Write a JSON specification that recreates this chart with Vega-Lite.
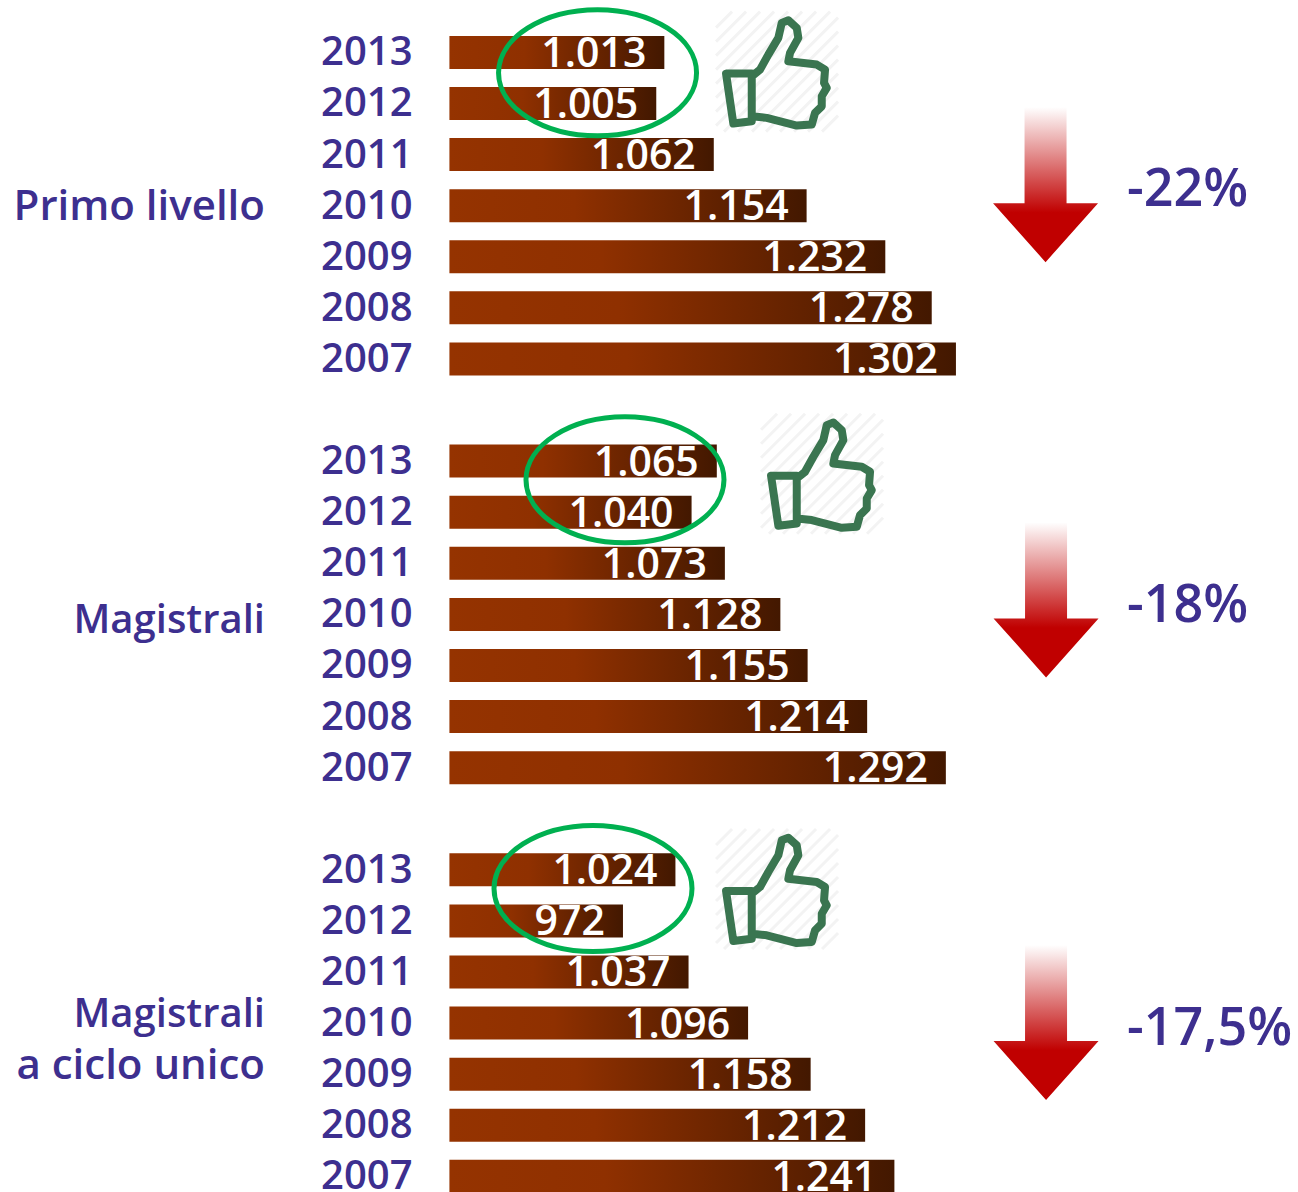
{
"$schema":"https://vega.github.io/schema/vega-lite/v6.json",
"width":1298,"height":1192,"padding":0,"autosize":{"type":"none"},
"background":"white","view":{"stroke":null},
"config":{"font":"Open Sans"},
"data":{"values":[
{"row":"Primo livello|2013","value":1013,"label":"1.013"},
{"row":"Primo livello|2012","value":1005,"label":"1.005"},
{"row":"Primo livello|2011","value":1062,"label":"1.062"},
{"row":"Primo livello|2010","value":1154,"label":"1.154"},
{"row":"Primo livello|2009","value":1232,"label":"1.232"},
{"row":"Primo livello|2008","value":1278,"label":"1.278"},
{"row":"Primo livello|2007","value":1302,"label":"1.302"},
{"row":"Magistrali|2013","value":1065,"label":"1.065"},
{"row":"Magistrali|2012","value":1040,"label":"1.040"},
{"row":"Magistrali|2011","value":1073,"label":"1.073"},
{"row":"Magistrali|2010","value":1128,"label":"1.128"},
{"row":"Magistrali|2009","value":1155,"label":"1.155"},
{"row":"Magistrali|2008","value":1214,"label":"1.214"},
{"row":"Magistrali|2007","value":1292,"label":"1.292"},
{"row":"Ciclo unico|2013","value":1024,"label":"1.024"},
{"row":"Ciclo unico|2012","value":972,"label":"972"},
{"row":"Ciclo unico|2011","value":1037,"label":"1.037"},
{"row":"Ciclo unico|2010","value":1096,"label":"1.096"},
{"row":"Ciclo unico|2009","value":1158,"label":"1.158"},
{"row":"Ciclo unico|2008","value":1212,"label":"1.212"},
{"row":"Ciclo unico|2007","value":1241,"label":"1.241"}
]},
"encoding":{
  "y":{"field":"row","type":"nominal","title":null,
   "scale":{"domain":["Primo livello|2013","Primo livello|2012","Primo livello|2011","Primo livello|2010","Primo livello|2009","Primo livello|2008","Primo livello|2007","gap1","Magistrali|2013","Magistrali|2012","Magistrali|2011","Magistrali|2010","Magistrali|2009","Magistrali|2008","Magistrali|2007","gap2","Ciclo unico|2013","Ciclo unico|2012","Ciclo unico|2011","Ciclo unico|2010","Ciclo unico|2009","Ciclo unico|2008","Ciclo unico|2007"],"range":[26.85,1201.9],"paddingInner":0,"paddingOuter":0},
   "axis":{"orient":"left","offset":-414,"domain":false,"ticks":false,"grid":false,"labelPadding":2,"labelOffset":1,"labelFont":"Open Sans","labelFontSize":40,"labelColor":"#3d2f8f","labelOverlap":false,"labelFontWeight":600,"labelExpr":"indexof(datum.value,'|')>0 ? split(datum.value,'|')[1] : ''"}}
},
"layer":[
{"mark":{"type":"bar","height":33,"fill":{"gradient":"linear","x1":0,"y1":0,"x2":1,"y2":0,"stops":[{"offset":0,"color":"#953300"},{"offset":0.35,"color":"#8f3000"},{"offset":1,"color":"#431800"}]}},
 "encoding":{
  "x":{"field":"value","type":"quantitative","scale":{"domain":[354.6,1641],"nice":false,"zero":false},"axis":null},
  "x2":{"datum":800}}},
{"mark":{"type":"text","align":"right","baseline":"alphabetic","dx":-18,"dy":14.5,"font":"Open Sans","fontSize":41,"fontWeight":600,"fill":"white"},
 "encoding":{"x":{"field":"value","type":"quantitative","axis":null},"text":{"field":"label"}}},
{"data":{"values":[{"row":"Primo livello|2010","label":"Primo livello"}]},
 "mark":{"type":"text","align":"right","baseline":"middle","dy":1,"font":"Open Sans","fontSize":42,"fontWeight":600,"fill":"#3d2f8f"},
 "encoding":{"x":{"datum":617.2},"text":{"field":"label"}}},
{"data":{"values":[{"row":"Magistrali|2010","label":"Magistrali"}]},
 "mark":{"type":"text","align":"right","baseline":"middle","dy":7,"font":"Open Sans","fontSize":40,"fontWeight":600,"fill":"#3d2f8f"},
 "encoding":{"x":{"datum":617.2},"text":{"field":"label"}}},
{"data":{"values":[{"row":"Ciclo unico|2010","label":"Magistrali"}]},
 "mark":{"type":"text","align":"right","baseline":"middle","dy":-8,"font":"Open Sans","fontSize":40,"fontWeight":600,"fill":"#3d2f8f"},
 "encoding":{"x":{"datum":617.2},"text":{"field":"label"}}},
{"data":{"values":[{"row":"Ciclo unico|2009","label":"a ciclo unico"}]},
 "mark":{"type":"text","align":"right","baseline":"middle","dy":-8,"font":"Open Sans","fontSize":42,"fontWeight":600,"fill":"#3d2f8f"},
 "encoding":{"x":{"datum":617.2},"text":{"field":"label"}}},
{"data":{"values":[{"row":"Primo livello|2010","label":"-22%"}]},
 "mark":{"type":"text","align":"left","baseline":"middle","dy":-16,"font":"Open Sans","fontSize":52,"fontWeight":600,"fill":"#3d2f8f"},
 "encoding":{"x":{"datum":1471.6},"text":{"field":"label"}}},
{"data":{"values":[{"row":"Magistrali|2010","label":"-18%"}]},
 "mark":{"type":"text","align":"left","baseline":"middle","dy":-8,"font":"Open Sans","fontSize":52,"fontWeight":600,"fill":"#3d2f8f"},
 "encoding":{"x":{"datum":1471.6},"text":{"field":"label"}}},
{"data":{"values":[{"row":"Ciclo unico|2010","label":"-17,5%"}]},
 "mark":{"type":"text","align":"left","baseline":"middle","dy":6,"font":"Open Sans","fontSize":52,"fontWeight":600,"fill":"#3d2f8f"},
 "encoding":{"x":{"datum":1471.6},"text":{"field":"label"}}},
{"data":{"values":[{"row":"Primo livello|2010"}]},
 "mark":{"type":"point","filled":true,"opacity":1,"size":4,"yOffset":-21,"shape":"M-21,-77.5L21,-77.5L21,18.5L52.5,18.5L0,77.5L-52.5,18.5L-21,18.5Z","fill":{"gradient":"linear","x1":0,"y1":0,"x2":0,"y2":1,"stops":[{"offset":0,"color":"#ffffff"},{"offset":0.68,"color":"#c00000"},{"offset":1,"color":"#c00000"}]}},
 "encoding":{"x":{"datum":1390.8}}},
{"data":{"values":[{"row":"Magistrali|2010"}]},
 "mark":{"type":"point","filled":true,"opacity":1,"size":4,"yOffset":-14.5,"shape":"M-21,-77.5L21,-77.5L21,18.5L52.5,18.5L0,77.5L-52.5,18.5L-21,18.5Z","fill":{"gradient":"linear","x1":0,"y1":0,"x2":0,"y2":1,"stops":[{"offset":0,"color":"#ffffff"},{"offset":0.68,"color":"#c00000"},{"offset":1,"color":"#c00000"}]}},
 "encoding":{"x":{"datum":1391.3}}},
{"data":{"values":[{"row":"Ciclo unico|2010"}]},
 "mark":{"type":"point","filled":true,"opacity":1,"size":4,"yOffset":-0.5,"shape":"M-21,-77.5L21,-77.5L21,18.5L52.5,18.5L0,77.5L-52.5,18.5L-21,18.5Z","fill":{"gradient":"linear","x1":0,"y1":0,"x2":0,"y2":1,"stops":[{"offset":0,"color":"#ffffff"},{"offset":0.68,"color":"#c00000"},{"offset":1,"color":"#c00000"}]}},
 "encoding":{"x":{"datum":1391.3}}},
{"data":{"values":[{"row":"Primo livello|2012"}]},
 "mark":{"type":"point","filled":false,"opacity":1,"size":4,"yOffset":-30.7,"strokeWidth":5,"stroke":"#00b050","shape":"M-99,0C-99,-34.8,-54.7,-63,0,-63C54.7,-63,99,-34.8,99,0C99,34.8,54.7,63,0,63C-54.7,63,-99,34.8,-99,0Z"},
 "encoding":{"x":{"datum":946.8}}},
{"data":{"values":[{"row":"Magistrali|2012"}]},
 "mark":{"type":"point","filled":false,"opacity":1,"size":4,"yOffset":-32.4,"strokeWidth":5,"stroke":"#00b050","shape":"M-99,0C-99,-34.8,-54.7,-63,0,-63C54.7,-63,99,-34.8,99,0C99,34.8,54.7,63,0,63C-54.7,63,-99,34.8,-99,0Z"},
 "encoding":{"x":{"datum":974}}},
{"data":{"values":[{"row":"Ciclo unico|2012"}]},
 "mark":{"type":"point","filled":false,"opacity":1,"size":4,"yOffset":-32.4,"strokeWidth":5,"stroke":"#00b050","shape":"M-99,0C-99,-34.8,-54.7,-63,0,-63C54.7,-63,99,-34.8,99,0C99,34.8,54.7,63,0,63C-54.7,63,-99,34.8,-99,0Z"},
 "encoding":{"x":{"datum":942.3}}},
{"data":{"values":[{"row":"Primo livello|2012"},{"row":"Ciclo unico|2012"}]},
 "mark":{"type":"point","filled":false,"opacity":1,"size":4,"yOffset":-31.9,"strokeWidth":3,"stroke":"#f3f3f3","shape":"M61,-54L-53,60M61,-40L-39,60M61,-26L-25,60M61,-12L-11,60M61,2L3,60M61,16L17,60M61,30L31,60M61,44L45,60M-61,54L53,-60M-61,40L39,-60M-61,26L25,-60M-61,12L11,-60M-61,-2L-3,-60M-61,-16L-17,-60M-61,-30L-31,-60M-61,-44L-45,-60"},
 "encoding":{"x":{"datum":1124.7}}},
{"data":{"values":[{"row":"Magistrali|2012"}]},
 "mark":{"type":"point","filled":false,"opacity":1,"size":4,"yOffset":-38.4,"strokeWidth":3,"stroke":"#f3f3f3","shape":"M61,-54L-53,60M61,-40L-39,60M61,-26L-25,60M61,-12L-11,60M61,2L3,60M61,16L17,60M61,30L31,60M61,44L45,60M-61,54L53,-60M-61,40L39,-60M-61,26L25,-60M-61,12L11,-60M-61,-2L-3,-60M-61,-16L-17,-60M-61,-30L-31,-60M-61,-44L-45,-60"},
 "encoding":{"x":{"datum":1169.3}}},
{"data":{"values":[{"row":"Primo livello|2012"},{"row":"Ciclo unico|2012"}]},
 "mark":{"type":"point","filled":false,"opacity":1,"size":4,"yOffset":-31.9,"strokeWidth":8,"stroke":"#3a7550","strokeJoin":"round","strokeCap":"round","shape":"M-51,2L-25.3,2L-25.3,49.7L-43.7,52ZM-25.3,4.7L-17,-2L-8.7,-17L1.3,-33.7L4.7,-48.7L11.3,-51.3L19.7,-43.7L21.3,-33.7L13,-18.7L11.3,-10.3L39.7,-7L48,-2L47,11.3L49.7,16.3L44.7,24.7L44.7,34.7L38,41.3L34.7,53L19.7,54L-10.3,46.3L-25.3,44.7"},
 "encoding":{"x":{"datum":1124.7}}},
{"data":{"values":[{"row":"Magistrali|2012"}]},
 "mark":{"type":"point","filled":false,"opacity":1,"size":4,"yOffset":-38.4,"strokeWidth":8,"stroke":"#3a7550","strokeJoin":"round","strokeCap":"round","shape":"M-51,2L-25.3,2L-25.3,49.7L-43.7,52ZM-25.3,4.7L-17,-2L-8.7,-17L1.3,-33.7L4.7,-48.7L11.3,-51.3L19.7,-43.7L21.3,-33.7L13,-18.7L11.3,-10.3L39.7,-7L48,-2L47,11.3L49.7,16.3L44.7,24.7L44.7,34.7L38,41.3L34.7,53L19.7,54L-10.3,46.3L-25.3,44.7"},
 "encoding":{"x":{"datum":1169.3}}}
]
}
